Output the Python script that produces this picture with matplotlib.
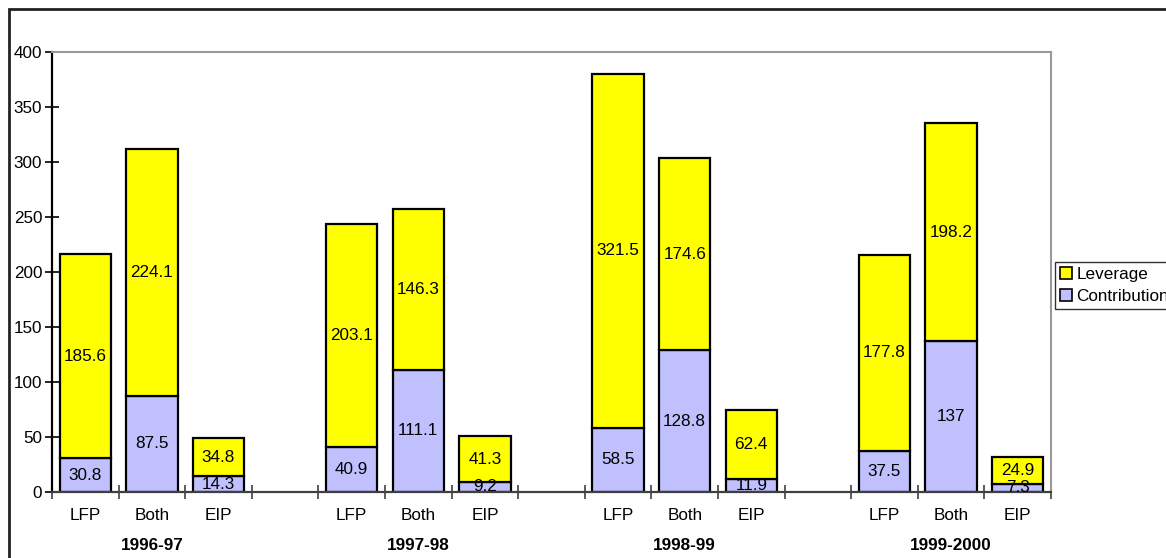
import matplotlib.pyplot as plt
from matplotlib.patches import Rectangle
from matplotlib.transforms import blended_transform_factory

plt.rcParams['font.family'] = ['Liberation Sans', 'DejaVu Sans']

years = ['1996-97', '1997-98', '1998-99', '1999-2000']
programs = ['LFP', 'Both', 'EIP']
contribution = [30.8, 87.5, 14.3, 40.9, 111.1, 9.2, 58.5, 128.8, 11.9, 37.5, 137, 7.3]
leverage = [185.6, 224.1, 34.8, 203.1, 146.3, 41.3, 321.5, 174.6, 62.4, 177.8, 198.2, 24.9]

yellow = '#FFFF00'
lavender = '#C0C0FF'
fs = 12.3

fig = plt.figure(figsize=(11.66, 5.58), dpi=100)
W, H = 1166, 558
ax = fig.add_axes([52 / W, 1 - 492 / H, (1051 - 52) / W, (492 - 52) / H])

# one empty slot between each year group
xs = [g * 4 + i + 0.5 for g in range(len(years)) for i in range(len(programs))]
width = 0.77

ax.bar(xs, contribution, width, color=lavender, edgecolor='black', linewidth=1.6, zorder=2)
ax.bar(xs, leverage, width, bottom=contribution, color=yellow, edgecolor='black',
       linewidth=1.6, zorder=2)

for x, c, l in zip(xs, contribution, leverage):
    ax.text(x, c / 2, f'{c:g}', ha='center', va='center', fontsize=fs, zorder=3)
    ax.text(x, c + l / 2, f'{l:g}', ha='center', va='center', fontsize=fs, zorder=3)

ax.set_xlim(0, 15)
ax.set_ylim(0, 400)
ax.set_yticks(range(0, 401, 50))
ax.set_xticks(range(0, 16))
ax.set_xticklabels([])
ax.tick_params(axis='both', direction='inout', length=10, width=1.2, labelsize=fs)
ax.tick_params(axis='y', pad=2)
ax.tick_params(axis='x', color='#404040')

ax.spines['left'].set_linewidth(1.6)
ax.spines['bottom'].set_linewidth(1.6)
ax.spines['bottom'].set_color('#404040')
for s in ('top', 'right'):
    ax.spines[s].set_color('#999999')
    ax.spines[s].set_linewidth(1.5)

tr = blended_transform_factory(ax.transData, fig.transFigure)
for g, yr in enumerate(years):
    for i, p in enumerate(programs):
        ax.text(g * 4 + i + 0.5, 1 - 516 / H, p, transform=tr, ha='center',
                va='center', fontsize=fs)
    ax.text(g * 4 + 1.5, 1 - 545 / H, yr, transform=tr, ha='center', va='center',
            fontsize=fs, fontweight='bold')

handles = [Rectangle((0, 0), 1, 1, facecolor=yellow, edgecolor='black', linewidth=1.2),
           Rectangle((0, 0), 1, 1, facecolor=lavender, edgecolor='black', linewidth=1.2)]
leg = fig.legend(handles, ['Leverage', 'Contribution'], loc='upper left',
                 bbox_to_anchor=(1055 / W, 1 - 262 / H), fontsize=fs,
                 frameon=True, fancybox=False, handlelength=0.7, handleheight=0.7,
                 handletextpad=0.25, borderpad=0.3, labelspacing=0.4,
                 borderaxespad=0)
leg.get_frame().set_edgecolor('black')
leg.get_frame().set_linewidth(1.0)

# outer chart frame
fig.add_artist(Rectangle((9 / W, -0.05), 1.1, 1 - 9 / H + 0.05, transform=fig.transFigure,
                         fill=False, edgecolor='#222222', linewidth=2))

fig.savefig('out.png', dpi=100)
